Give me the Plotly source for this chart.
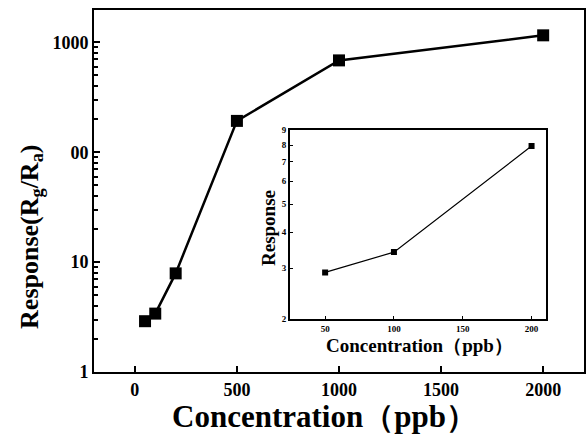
import plotly.graph_objects as go

# Main data
conc = [50, 100, 200, 500, 1000, 2000]
resp = [2.9, 3.4, 7.9, 193, 686, 1160]
main_xticks = [0, 500, 1000, 1500, 2000]
main_yticks = [1, 10, 100, 1000]
main_yticklabels = ["1", "10", "00", "1000"]

# Inset data
inset_conc = [50, 100, 200]
inset_resp = [2.9, 3.41, 7.94]
inset_xticks = [50, 100, 150, 200]
inset_yticks = [2, 3, 4, 5, 6, 7, 8, 9]

FONT = "Liberation Serif"

fig = go.Figure()
fig.add_trace(go.Scatter(
    x=conc, y=resp, mode="lines+markers",
    line=dict(color="black", width=2.5),
    marker=dict(symbol="square", size=12, color="black"),
    showlegend=False, xaxis="x", yaxis="y"))
fig.add_trace(go.Scatter(
    x=inset_conc, y=inset_resp, mode="lines+markers",
    line=dict(color="black", width=1.2),
    marker=dict(symbol="square", size=6, color="black"),
    showlegend=False, xaxis="x2", yaxis="y2"))

minor_vals = [m * 10 ** d for d in range(0, 4) for m in range(2, 10)]

fig.update_layout(
    width=588, height=435,
    margin=dict(l=94, r=2, t=9.5, b=63),
    plot_bgcolor="white", paper_bgcolor="white",
    font=dict(family=FONT, color="black"),
    xaxis=dict(
        range=[-200, 2200], tickvals=main_xticks,
        ticks="inside", ticklen=6, tickwidth=2, tickcolor="black",
        showline=True, linecolor="black", linewidth=2, mirror=True,
        showgrid=False, zeroline=False,
        tickfont=dict(family=FONT, size=18, color="black", weight="bold"),
    ),
    yaxis=dict(
        type="log", range=[0, 3.295],
        tickvals=main_yticks, ticktext=main_yticklabels,
        ticks="inside", ticklen=6, tickwidth=2, tickcolor="black",
        minor=dict(tickvals=minor_vals, ticks="inside", ticklen=4,
                   tickwidth=1.5, tickcolor="black", showgrid=False),
        showline=True, linecolor="black", linewidth=2, mirror=True,
        showgrid=False, zeroline=False,
        tickfont=dict(family=FONT, size=18, color="black", weight="bold"),
    ),
    xaxis2=dict(
        domain=[0.3998, 0.9222], anchor="y2",
        range=[24.4, 210.4], tickvals=inset_xticks,
        ticks="inside", ticklen=3, tickwidth=1, tickcolor="black",
        showline=True, linecolor="black", linewidth=1.5, mirror=True,
        showgrid=False, zeroline=False,
        tickfont=dict(family=FONT, size=9, color="black", weight="bold"),
    ),
    yaxis2=dict(
        domain=[0.1462, 0.6676], anchor="x2",
        type="log", range=[0.30103, 0.95424],
        tickvals=inset_yticks,
        ticks="inside", ticklen=3, tickwidth=1, tickcolor="black",
        showline=True, linecolor="black", linewidth=1.5, mirror=True,
        showgrid=False, zeroline=False,
        tickfont=dict(family=FONT, size=9, color="black", weight="bold"),
    ),
)

titles = [
    dict(text="<b>Concentration（ppb）</b>", x=0.471, y=-0.123, size=31, angle=0),
    dict(text="<b>Response(R<sub>g</sub>/R<sub>a</sub>)</b>", x=-0.130, y=0.374, size=26, angle=-90),
    dict(text="<b>Concentration（ppb）</b>", x=0.6646, y=0.074, size=19, angle=0),
    dict(text="<b>Response</b>", x=0.3557, y=0.3986, size=19, angle=-90),
]
for t in titles:
    fig.add_annotation(
        text=t["text"], x=t["x"], y=t["y"], xref="paper", yref="paper",
        xanchor="center", yanchor="middle", showarrow=False,
        textangle=t["angle"],
        font=dict(family=FONT, size=t["size"], color="black"))

fig.write_html("out.html")
